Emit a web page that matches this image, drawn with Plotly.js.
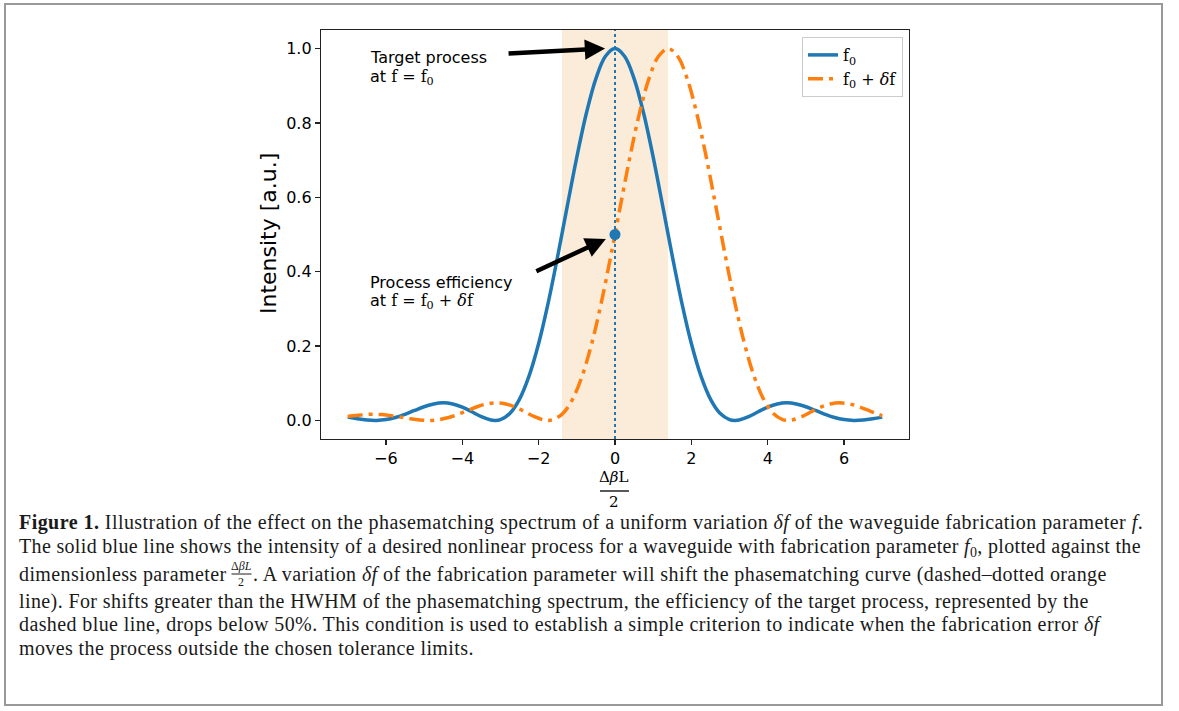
<!DOCTYPE html>
<html>
<head>
<meta charset="utf-8">
<script src="https://cdn.plot.ly/plotly-3.0.1.min.js"></script>
<style>html,body{margin:0;padding:0;background:#fff;}#chart{width:1179px;height:711px;}</style>
</head>
<body>
<div id="chart"></div>
<script>
// ---- data ----
const xBlue = [-7, -6.75, -6.5, -6.25, -6, -5.75, -5.5, -5.25, -5, -4.75, -4.5, -4.25, -4, -3.75, -3.5, -3.25, -3.14, -3, -2.75, -2.5, -2.25, -2, -1.75, -1.5, -1.25, -1, -0.75, -0.5, -0.25, 0,
  0.25, 0.5, 0.75, 1, 1.25, 1.5, 1.75, 2, 2.25, 2.5, 2.75, 3, 3.14, 3.25, 3.5, 3.75, 4, 4.25, 4.5, 4.75, 5, 5.25, 5.5, 5.75, 6, 6.25, 6.5, 6.75, 7];
const yBlue = [0.0088, 0.0044, 0.0011, 0.0000, 0.0022, 0.0078, 0.0165, 0.0268, 0.0368, 0.0443, 0.0472, 0.0443, 0.0358, 0.0232, 0.0100, 0.0011, 0.0000, 0.0022, 0.0193, 0.0573, 0.1196, 0.2067, 0.3162, 0.4422, 0.5764, 0.7081, 0.8260, 0.9194, 0.9793, 1.0000,
  0.9793, 0.9194, 0.8260, 0.7081, 0.5764, 0.4422, 0.3162, 0.2067, 0.1196, 0.0573, 0.0193, 0.0022, 0.0000, 0.0011, 0.0100, 0.0232, 0.0358, 0.0443, 0.0472, 0.0443, 0.0368, 0.0268, 0.0165, 0.0078, 0.0022, 0.0000, 0.0011, 0.0044, 0.0088];
const xOrange = [-7, -6.86, -6.61, -6.36, -6.11, -5.86, -5.61, -5.36, -5.11, -4.86, -4.61, -4.36, -4.11, -3.86, -3.61, -3.36, -3.11, -2.86, -2.61, -2.36, -2.11, -1.86, -1.75, -1.61, -1.36, -1.11, -0.86, -0.61, -0.36, -0.11,
  0.14, 0.39, 0.64, 0.89, 1.14, 1.39, 1.64, 1.89, 2.14, 2.39, 2.64, 2.89, 3.14, 3.39, 3.64, 3.89, 4.14, 4.39, 4.53, 4.64, 4.89, 5.14, 5.39, 5.64, 5.89, 6.14, 6.39, 6.64, 6.89, 7];
const yOrange = [0.0105, 0.0125, 0.0153, 0.0165, 0.0156, 0.0129, 0.0088, 0.0044, 0.0011, 0.0000, 0.0022, 0.0078, 0.0165, 0.0268, 0.0368, 0.0443, 0.0472, 0.0443, 0.0358, 0.0232, 0.0100, 0.0011, 0.0000, 0.0022, 0.0193, 0.0573, 0.1196, 0.2067, 0.3162, 0.4422,
  0.5764, 0.7081, 0.8260, 0.9194, 0.9793, 1.0000, 0.9793, 0.9194, 0.8260, 0.7081, 0.5764, 0.4422, 0.3162, 0.2067, 0.1196, 0.0573, 0.0193, 0.0022, 0.0000, 0.0011, 0.0100, 0.0232, 0.0358, 0.0443, 0.0472, 0.0443, 0.0368, 0.0268, 0.0165, 0.0124];
const markX = [0];
const markY = [0.5];
const hwhm = 1.39;
const xTicks = [-6, -4, -2, 0, 2, 4, 6];
const yTicks = [0.0, 0.2, 0.4, 0.6, 0.8, 1.0];
const seriesNames = ['f<sub>0</sub>', 'f<sub>0</sub> + <i>δ</i>f'];
const captionLines = [
  '<b>Figure 1.</b> Illustration of the effect on the phasematching spectrum of a uniform variation <i>δf</i> of the waveguide fabrication parameter <i>f</i>.',
  'The solid blue line shows the intensity of a desired nonlinear process for a waveguide with fabrication parameter <i>f</i><sub>0</sub>, plotted against the',
  'dimensionless parameter',
  'line). For shifts greater than the HWHM of the phasematching spectrum, the efficiency of the target process, represented by the',
  'dashed blue line, drops below 50%. This condition is used to establish a simple criterion to indicate when the fabrication error <i>δf</i>',
  'moves the process outside the chosen tolerance limits.'
];
const captionLine3b = '. A variation <i>δf</i> of the fabrication parameter will shift the phasematching curve (dashed–dotted orange';
const captionFracTop = 'Δ<i>βL</i>';
const captionFracBottom = '2';

// ---- layout helpers (pixel -> paper) ----
const L = 321, R = 909, T = 30, B = 439;
const px = x => (x - L) / (R - L);
const py = y => (B - y) / (B - T);

const BLUE = '#1f77b4', ORANGE = '#ff7f0e';
const sans = 'DejaVu Sans', serif = 'DejaVu Serif', capFamily = 'Liberation Serif';
const capSize = 20, capColor = '#1a1a1a';
const capSpacing = [0.45, 0.33, 0.4, 0.4, 0.4, 0.4];
const sp = (t, s) => '<span style="letter-spacing:' + s + 'px">' + t + '</span>';

const traces = [
  {x: xBlue, y: yBlue, name: seriesNames[0], mode: 'lines', line: {color: BLUE, width: 3.5, shape: 'spline', smoothing: 1}},
  {x: xOrange, y: yOrange, name: seriesNames[1], mode: 'lines', line: {color: ORANGE, width: 3.5, dash: '15px,6px,4px,6px', shape: 'spline', smoothing: 1}},
  {x: markX, y: markY, mode: 'markers', showlegend: false, marker: {color: BLUE, size: 11}, cliponaxis: false}
];

const ann = [];
function txt(x, y, text, opts) {
  ann.push(Object.assign({xref: 'paper', yref: 'paper', x: px(x), y: py(y), text: text, showarrow: false,
    xanchor: 'left', yanchor: 'middle', font: {family: sans, size: 16, color: '#000'}}, opts || {}));
  return ann.length - 1;
}
// arrows
ann.push({xref: 'x', yref: 'y', x: -0.26, y: 1.0, ax: -98, ay: 5, text: ' ', font: {size: 1}, showarrow: true,
  arrowhead: 2, arrowsize: 0.9, arrowwidth: 4.5, arrowcolor: '#000', standoff: 0, startstandoff: 0});
ann.push({xref: 'x', yref: 'y', x: -0.24, y: 0.488, ax: -71, ay: 33, text: ' ', font: {size: 1}, showarrow: true,
  arrowhead: 2, arrowsize: 0.9, arrowwidth: 4.5, arrowcolor: '#000', standoff: 0, startstandoff: 0});
// arrow labels
txt(368, 58, 'Target process');
txt(368, 77, 'at <span style="font-family:DejaVu Serif">f = f<sub>0</sub></span>');
txt(368, 282, 'Process efficiency');
txt(368, 301, 'at <span style="font-family:DejaVu Serif">f = f<sub>0</sub> + <i>δ</i>f</span>');
// y axis title
txt(268, 234, 'Intensity [a.u.]', {xanchor: 'center', textangle: -90, font: {family: sans, size: 22, color: '#000'}});
// x axis title (fraction)
txt(614, 477, 'Δ<i>β</i>L', {xanchor: 'center', font: {family: serif, size: 15, color: '#000'}});
txt(614, 502, '2', {xanchor: 'center', font: {family: serif, size: 15, color: '#000'}});
// caption
const capY = [522, 547, 574, 601, 624, 648];
const capIdx = captionLines.map((t, i) => txt(17, capY[i], sp(t, capSpacing[i]), {font: {family: capFamily, size: capSize, color: capColor}}));
const fracTopIdx = txt(282, 566, captionFracTop, {xanchor: 'center', font: {family: capFamily, size: 12, color: capColor}});
const fracBotIdx = txt(282, 582, captionFracBottom, {xanchor: 'center', font: {family: capFamily, size: 12, color: capColor}});
const line3bIdx = txt(294, 574, sp(captionLine3b, capSpacing[2]), {font: {family: capFamily, size: capSize, color: capColor}});

const shapes = [
  {type: 'rect', xref: 'x', yref: 'paper', x0: -hwhm, x1: hwhm, y0: 0, y1: 1, fillcolor: 'rgb(250,236,216)', line: {width: 0}, layer: 'below'},
  {type: 'line', xref: 'x', yref: 'paper', x0: 0, x1: 0, y0: 0, y1: 1, line: {color: BLUE, width: 2, dash: 'dot'}, layer: 'above'},
  {type: 'line', xref: 'paper', yref: 'paper', x0: px(600), x1: px(629), y0: py(491), y1: py(491), line: {color: '#000', width: 1.3}},
  {type: 'line', xref: 'paper', yref: 'paper', x0: px(272), x1: px(292), y0: py(574), y1: py(574), line: {color: capColor, width: 1}},
  {type: 'rect', xref: 'paper', yref: 'paper', x0: px(5), x1: px(1162), y0: py(4), y1: py(705), line: {color: '#999', width: 2}, fillcolor: 'rgba(0,0,0,0)'}
];
const fracBarIdx = 3;

const axisCommon = {showgrid: false, zeroline: false, showline: true, mirror: true, linecolor: '#222', linewidth: 1.2,
  ticks: 'outside', ticklen: 5, tickwidth: 1.2, tickcolor: '#222', tickfont: {family: sans, size: 16, color: '#000'}, fixedrange: true};

const layout = {
  width: 1179, height: 711,
  margin: {l: L, r: 1179 - R, t: T, b: 711 - B, pad: 0},
  paper_bgcolor: '#fff', plot_bgcolor: '#fff',
  xaxis: Object.assign({}, axisCommon, {range: [-7.7, 7.7], tickmode: 'array', tickvals: xTicks}),
  yaxis: Object.assign({}, axisCommon, {range: [-0.05, 1.05], tickmode: 'array', tickvals: yTicks, tickformat: '.1f'}),
  legend: {x: px(903), xanchor: 'right', y: py(37), yanchor: 'top', bgcolor: 'rgba(255,255,255,0.85)', bordercolor: '#ccc', borderwidth: 1,
    font: {family: serif, size: 16, color: '#000'}},
  showlegend: true,
  shapes: shapes,
  annotations: ann
};

Plotly.newPlot('chart', traces, layout, {displayModeBar: false, staticPlot: true}).then(gd => {
  // place the inline fraction of caption line 3 right after the measured text
  const el = gd.querySelector('.annotation[data-index="' + capIdx[2] + '"] .annotation-text');
  if (!el) return;
  const w = el.getBBox().width;
  const end = 17 + w + 6;
  const fracC = end + 11;
  const upd = {};
  upd['annotations[' + fracTopIdx + '].x'] = px(fracC);
  upd['annotations[' + fracBotIdx + '].x'] = px(fracC);
  upd['annotations[' + line3bIdx + '].x'] = px(fracC + 10);
  upd['shapes[' + fracBarIdx + '].x0'] = px(fracC - 10);
  upd['shapes[' + fracBarIdx + '].x1'] = px(fracC + 10);
  return Plotly.relayout(gd, upd);
});
</script>
</body>
</html>
